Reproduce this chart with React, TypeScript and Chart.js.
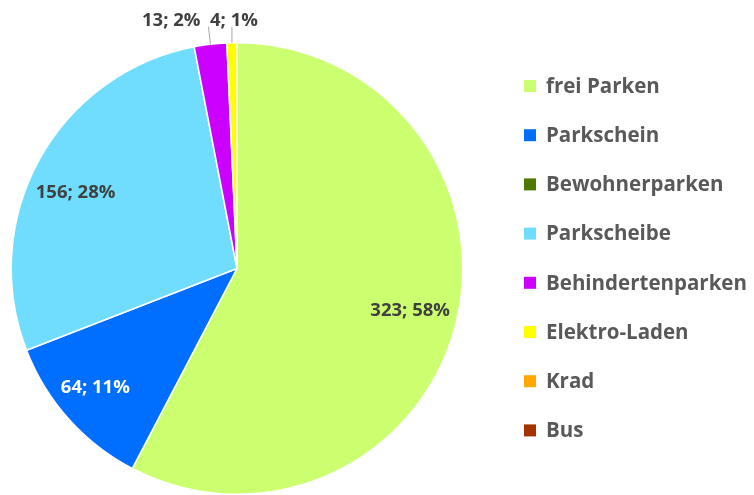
import React, { useEffect, useRef } from "react";
import { Chart, registerables } from "chart.js";
Chart.register(...registerables);

const categories = [
  "frei Parken",
  "Parkschein",
  "Bewohnerparken",
  "Parkscheibe",
  "Behindertenparken",
  "Elektro-Laden",
  "Krad",
  "Bus",
];
const counts = [323, 64, 0, 156, 13, 4, 0, 0];
const sliceColors = [
  "#CCFF70",
  "#006EFF",
  "#4E7800",
  "#70DDFF",
  "#CC00FF",
  "#FFFF00",
  "#FFA800",
  "#A53300",
];
const labelColors = ["#404040", "#FFFFFF", "#404040", "#404040", "#404040", "#404040", "#404040", "#404040"];
// label placement tweaks (angle offset in radians, radius fraction)
const labelAngleNudge = [0, 0.03, 0, -0.066, 0, 0, 0, 0];
const labelRadius = [0.79, 0.82, 0.8, 0.79, 0.8, 0.8, 0.8, 0.8];

const FONT = '"Open Sans", sans-serif';

const sliceLabelPlugin = {
  id: "sliceLabels",
  afterDatasetsDraw(chart: any) {
    const ctx = chart.ctx as CanvasRenderingContext2D;
    const meta = chart.getDatasetMeta(0);
    const data = chart.data.datasets[0].data as number[];
    const total = data.reduce((a, b) => a + b, 0);
    const nonZero = data.map((v, i) => (v ? i : -1)).filter((i) => i >= 0);
    const lastIdx = nonZero[nonZero.length - 1];
    ctx.save();
    ctx.font = `bold 18.5px ${FONT}`;
    ctx.textBaseline = "middle";
    meta.data.forEach((arc: any, i: number) => {
      const v = data[i];
      if (!v) return;
      const pct = Math.round((v / total) * 100);
      const text = `${v}; ${pct}%`;
      const p = arc.getProps(["x", "y", "startAngle", "endAngle", "outerRadius"], true);
      const mid = (p.startAngle + p.endAngle) / 2;
      if (v / total > 0.05) {
        const r = p.outerRadius * labelRadius[i];
        const a = mid + labelAngleNudge[i];
        ctx.fillStyle = labelColors[i];
        ctx.textAlign = "center";
        ctx.fillText(text, p.x + Math.cos(a) * r, p.y + Math.sin(a) * r);
      } else {
        const ox = p.x + Math.cos(mid) * p.outerRadius;
        const oy = p.y + Math.sin(mid) * p.outerRadius;
        const topY = p.y - p.outerRadius;
        const endY = topY - 16;
        const isLast = i === lastIdx;
        const ex = isLast ? ox : ox - 2;
        ctx.strokeStyle = "#A6A6A6";
        ctx.lineWidth = 1;
        ctx.beginPath();
        ctx.moveTo(ox, oy);
        ctx.lineTo(ex, endY);
        ctx.stroke();
        ctx.fillStyle = labelColors[i];
        const ty = topY - 22;
        if (isLast) {
          ctx.textAlign = "center";
          ctx.fillText(text, ex + 2, ty);
        } else {
          ctx.textAlign = "right";
          ctx.fillText(text, ex - 8, ty);
        }
      }
    });
    ctx.restore();
  },
};

const legendPlugin = {
  id: "sideLegend",
  afterDraw(chart: any) {
    const ctx = chart.ctx as CanvasRenderingContext2D;
    const labels = chart.data.labels as string[];
    const colors = chart.data.datasets[0].backgroundColor as string[];
    const x0 = chart.chartArea.right + 60;
    const y0 = 86;
    const step = 49.2;
    ctx.save();
    ctx.font = `bold 20.5px ${FONT}`;
    ctx.textBaseline = "middle";
    ctx.textAlign = "left";
    labels.forEach((lab, i) => {
      const y = y0 + i * step;
      ctx.fillStyle = colors[i];
      ctx.fillRect(x0, y - 6, 12, 12);
      ctx.fillStyle = "#595959";
      ctx.fillText(lab, x0 + 22, y + 1);
    });
    ctx.restore();
  },
};

export default function App() {
  const ref = useRef<HTMLCanvasElement | null>(null);
  useEffect(() => {
    if (!ref.current) return;
    const chart = new Chart(ref.current, {
      type: "pie",
      data: {
        labels: categories,
        datasets: [
          {
            data: counts,
            backgroundColor: sliceColors,
            borderColor: "#FFFFFF",
            borderWidth: 1.5,
          },
        ],
      },
      options: {
        responsive: false,
        animation: false,
        layout: { padding: { left: 10, top: 42, right: 290, bottom: 0 } },
        plugins: {
          legend: { display: false },
          tooltip: { enabled: false },
        },
      },
      plugins: [sliceLabelPlugin, legendPlugin],
    });
    return () => chart.destroy();
  }, []);
  return (
    <div style={{ position: "absolute", left: 0, top: 0, width: 754, height: 495, background: "#fff" }}>
      <canvas ref={ref} width={754} height={495} />
    </div>
  );
}
